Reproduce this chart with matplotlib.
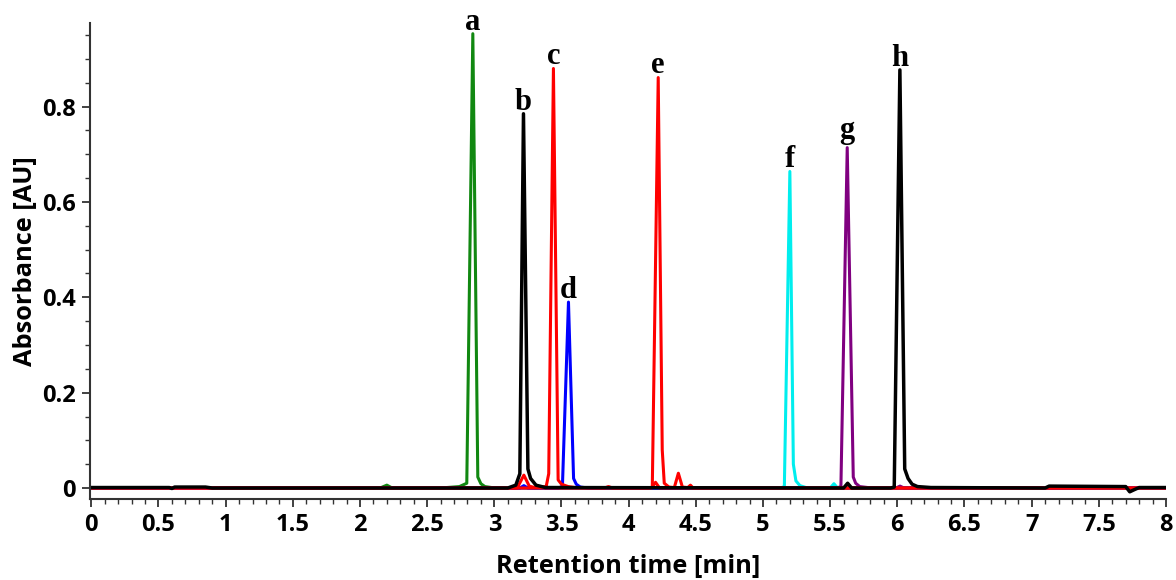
import matplotlib
matplotlib.use("Agg")
import matplotlib.pyplot as plt
from matplotlib.ticker import MultipleLocator

# ===== Data (time [min], absorbance [AU]) =====
green_t = [0, 2.15, 2.2, 2.24, 2.6, 2.74, 2.795, 2.84, 2.877, 2.90, 2.93, 2.98, 8]
green_y = [0, 0, 0.006, 0, 0, 0.003, 0.01, 0.953, 0.023, 0.009, 0.003, 0.001, 0]

red_c_t = [0, 3.17, 3.22, 3.26, 3.30, 3.386, 3.405, 3.44, 3.475, 3.50, 3.55, 3.60,
           3.82, 3.85, 3.88, 4.17, 4.20, 4.23, 8]
red_c_y = [0, 0, 0.027, 0.004, 0.001, 0.003, 0.03, 0.88, 0.017, 0.008, 0.003, 0.001,
           0, 0.003, 0, 0, 0.012, 0, 0]

red_e_t = [0, 4.15, 4.176, 4.22, 4.25, 4.265, 4.30, 4.34, 4.37, 4.40, 4.44, 4.46, 4.48, 8]
red_e_y = [0, 0, 0.002, 0.861, 0.08, 0.01, 0.002, 0.001, 0.031, 0.002, 0.001, 0.006, 0, 0]

blue_t = [0, 3.19, 3.22, 3.25, 3.48, 3.507, 3.552, 3.59, 3.61, 3.64, 3.70, 8]
blue_y = [0, 0, 0.005, 0, 0, 0.004, 0.39, 0.02, 0.008, 0.002, 0, 0]

cyan_t = [0, 5.13, 5.159, 5.20, 5.226, 5.245, 5.275, 5.32, 5.50, 5.528, 5.555, 8]
cyan_y = [0, 0, 0.003, 0.664, 0.05, 0.015, 0.005, 0.001, 0, 0.009, 0, 0]

purple_t = [0, 5.55, 5.58, 5.627, 5.672, 5.69, 5.72, 5.78, 5.99, 6.02, 6.05, 8]
purple_y = [0, 0, 0.003, 0.714, 0.023, 0.01, 0.003, 0.001, 0, 0.004, 0, 0]

black_t = [0, 0.58, 0.60, 0.62, 0.85, 0.90, 3.10, 3.16, 3.19, 3.217,
           3.25, 3.27, 3.31, 3.38, 5.60, 5.63, 5.66, 5.95, 5.977, 6.019, 6.055, 6.08,
           6.11, 6.15, 6.25, 7.10, 7.13, 7.70, 7.73, 7.76, 7.80, 8]
black_y = [0.001, 0.001, -0.001, 0.002, 0.002, 0, 0, 0.006, 0.03, 0.785,
           0.04, 0.02, 0.006, 0.001, 0, 0.01, 0, 0, 0.002, 0.877, 0.04, 0.02,
           0.008, 0.003, 0.001, 0, 0.004, 0.003, -0.008, -0.004, 0.001, 0.001]

peak_labels = ["a", "b", "c", "d", "e", "f", "g", "h"]
peak_times = [2.84, 3.217, 3.44, 3.552, 4.22, 5.20, 5.627, 6.019]
peak_heights = [0.953, 0.785, 0.88, 0.39, 0.861, 0.664, 0.714, 0.877]

# ===== Plot =====
fig = plt.figure(figsize=(11.76, 5.8), dpi=100)
ax = fig.add_axes([0.0765, 0.1397, 0.915, 0.8203])

lw = 2.2
ax.plot(green_t, green_y, color="#118811", lw=lw)
ax.plot(cyan_t, cyan_y, color="#00eeee", lw=lw)
ax.plot(purple_t, purple_y, color="#800080", lw=lw)
ax.plot(blue_t, blue_y, color="#0000ff", lw=lw)
ax.plot(red_c_t, red_c_y, color="#ff0000", lw=lw)
ax.plot(red_e_t, red_e_y, color="#ff0000", lw=lw)
ax.plot(black_t, black_y, color="black", lw=lw + 0.3)

for lab, t, h in zip(peak_labels, peak_times, peak_heights):
    dy = 7 if lab == "g" else 3
    ax.annotate(lab, (t, h), xytext=(0, dy), textcoords="offset points",
                ha="center", va="baseline", fontsize=22, fontweight="bold",
                family="Liberation Serif")

ax.set_xlim(-0.01, 8)
ax.set_ylim(-0.023, 0.975)
ax.xaxis.set_major_locator(MultipleLocator(0.5))
ax.xaxis.set_minor_locator(MultipleLocator(0.1))
ax.yaxis.set_major_locator(MultipleLocator(0.2))
ax.yaxis.set_minor_locator(MultipleLocator(0.05))
ax.xaxis.set_major_formatter(plt.FuncFormatter(lambda v, p: f"{v:g}"))
ax.yaxis.set_major_formatter(plt.FuncFormatter(lambda v, p: f"{v:g}"))

for s in ["top", "right"]:
    ax.spines[s].set_visible(False)
for s in ["left", "bottom"]:
    ax.spines[s].set_color("#333333")
    ax.spines[s].set_linewidth(1.5)

ax.tick_params(which="major", length=6, width=1.3, color="#333333", pad=4)
ax.tick_params(which="minor", length=3.5, width=1.0, color="#333333")
for lbl in ax.get_xticklabels() + ax.get_yticklabels():
    lbl.set_fontfamily("Open Sans")
    lbl.set_fontweight("bold")
    lbl.set_fontsize(17)

ax.set_xlabel("Retention time [min]", fontsize=18.3, fontweight="bold",
              family="Open Sans", labelpad=12)
ax.set_ylabel("Absorbance [AU]", fontsize=18.3, fontweight="bold",
              family="Open Sans", labelpad=3)

fig.savefig("out.png", dpi=100)
